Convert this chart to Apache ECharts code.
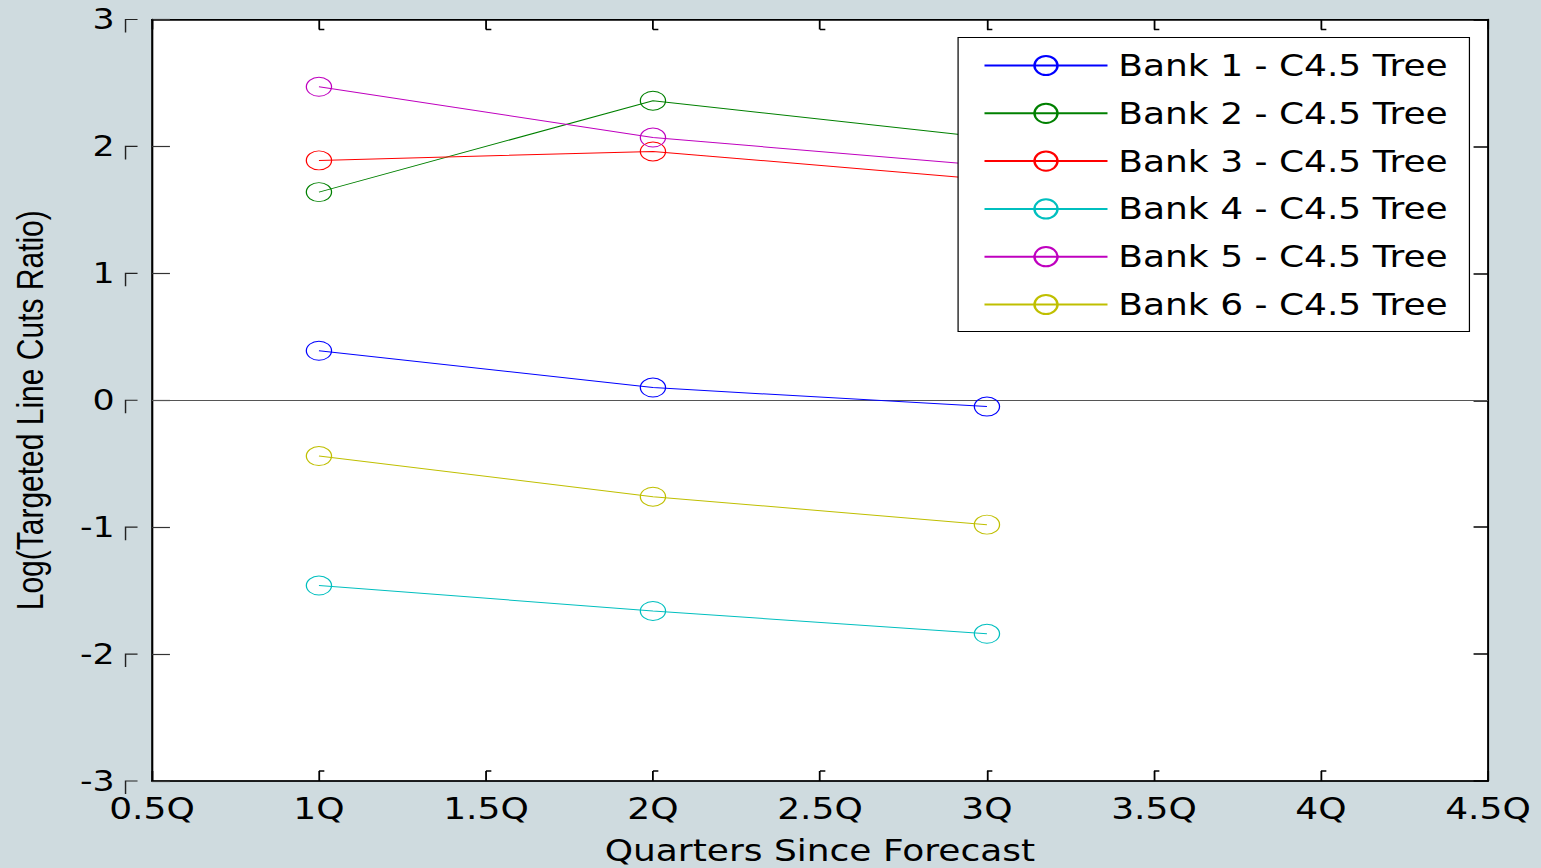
<!DOCTYPE html>
<html><head><meta charset="utf-8">
<script src="https://cdn.jsdelivr.net/npm/echarts@6/dist/echarts.min.js"></script>
<style>
html,body{margin:0;padding:0;background:#cfdbdf;overflow:hidden;}
#wrap{width:1541px;height:868px;overflow:hidden;}
#chart{width:1284px;height:868px;transform:scaleX(1.2001558);transform-origin:0 0;}
</style></head><body><div id="wrap"><div id="chart"></div></div>
<script>
// ---- data ----
const quarters = [1, 2, 3];
const bank1 = [0.39, 0.10, -0.05];
const bank2 = [1.64, 2.36, 2.07];
const bank3 = [1.89, 1.96, 1.74];
const bank4 = [-1.46, -1.66, -1.84];
const bank5 = [2.47, 2.07, 1.85];
const bank6 = [-0.44, -0.76, -0.98];
const seriesNames = ['Bank 1 - C4.5 Tree', 'Bank 2 - C4.5 Tree', 'Bank 3 - C4.5 Tree',
  'Bank 4 - C4.5 Tree', 'Bank 5 - C4.5 Tree', 'Bank 6 - C4.5 Tree'];
const xTickValues = [0.5, 1, 1.5, 2, 2.5, 3, 3.5, 4, 4.5];
const yTickValues = [-3, -2, -1, 0, 1, 2, 3];
const xTickSuffix = 'Q';
const xName = 'Quarters Since Forecast';
const yName = 'Log(Targeted Line Cuts Ratio)';

// ---- styles ----
const colors = ['#0000ff', '#008000', '#ff0000', '#00bfbf', '#bf00bf', '#bfbf00'];
const FONT = 'DejaVu Sans';
const ellipse = 'path://M0,50 A50,50 0 1,1 100,50 A50,50 0 1,1 0,50 Z';

const allBanks = [bank1, bank2, bank3, bank4, bank5, bank6];
const series = allBanks.map((vals, i) => {
  const s = {
    name: seriesNames[i],
    type: 'line',
    data: quarters.map((q, k) => [q, vals[k]]),
    symbol: ellipse,
    symbolSize: [21, 19],
    lineStyle: { color: colors[i], width: 1 },
    itemStyle: { color: 'transparent', borderColor: colors[i], borderWidth: 1 },
    emphasis: { disabled: true },
    z: 3
  };
  if (i === 0) {
    s.markLine = {
      silent: true, symbol: ['none', 'none'], label: { show: false },
      lineStyle: { color: '#555', width: 1, type: 'solid' },
      data: [{ yAxis: 0 }], z: 2
    };
  }
  return s;
});

// small tick decorations (MATLAB-style tick hooks), positioned from the axes
series.push({
  type: 'custom', silent: true, z: 5,
  data: yTickValues.map(v => [1, v]),
  renderItem: function (params, api) {
    const y = api.coord([api.value(0), api.value(1)])[1];
    const x0 = params.coordSys.x;
    return { type: 'polyline', silent: true,
      shape: { points: [[x0 - 22, y + 13], [x0 - 22, y], [x0 - 12, y]] },
      style: { stroke: '#222', fill: null, lineWidth: 1.2 } };
  }
});
series.push({
  type: 'custom', silent: true, z: 5,
  data: xTickValues.slice(1, -1).map(v => [v, 0]),
  renderItem: function (params, api) {
    const x = api.coord([api.value(0), api.value(1)])[0];
    const cs = params.coordSys;
    const yb = cs.y + cs.height, yt = cs.y;
    return { type: 'group', children: [
      { type: 'polyline', silent: true,
        shape: { points: [[x, yb - 10], [x + 4.5, yb - 10]] },
        style: { stroke: '#000', fill: null, lineWidth: 1.5 } },
      { type: 'polyline', silent: true,
        shape: { points: [[x, yt + 10], [x + 4.5, yt + 10]] },
        style: { stroke: '#000', fill: null, lineWidth: 1.5 } }
    ] };
  }
});

const chart = echarts.init(document.getElementById('chart'), null, { renderer: 'svg' });
const axisLineStyle = { show: true, onZero: false, lineStyle: { color: '#000', width: 1.5 } };
chart.setOption({
  animation: false,
  backgroundColor: '#cfdbdf',
  grid: { left: 126.6, top: 19.5, width: 1113.2, height: 761.5, containLabel: false,
          outerBoundsMode: 'none',
          show: true, backgroundColor: '#fff', borderColor: '#000', borderWidth: 1 },
  legend: {
    orient: 'vertical', left: 798.3, top: 37.5,
    padding: [13, 18, 12, 21], itemGap: 17.8, itemWidth: 102.5, itemHeight: 24,
    backgroundColor: '#fff', borderColor: '#000', borderWidth: 1,
    textStyle: { fontSize: 30, fontFamily: FONT, color: '#000', padding: [0, 0, 0, 4] },
    data: seriesNames
  },
  xAxis: [{
    type: 'value', min: 0.5, max: 4.5, interval: 0.5, position: 'bottom',
    axisLine: axisLineStyle,
    axisTick: { show: true, inside: true, length: 10, lineStyle: { color: '#000', width: 1.5 } },
    axisLabel: { formatter: v => v + xTickSuffix, fontSize: 30, fontFamily: FONT, color: '#000',
                 margin: 13, showMinLabel: true, showMaxLabel: true },
    splitLine: { show: false },
    name: xName, nameLocation: 'middle', nameGap: 55,
    nameTextStyle: { fontSize: 30, fontFamily: FONT, color: '#000' }
  }, {
    type: 'value', min: 0.5, max: 4.5, interval: 0.5, position: 'top',
    axisLine: axisLineStyle,
    axisTick: { show: true, inside: true, length: 10, lineStyle: { color: '#000', width: 1.5 } },
    axisLabel: { show: false }, splitLine: { show: false }
  }],
  yAxis: [{
    type: 'value', min: -3, max: 3, interval: 1, position: 'left',
    axisLine: axisLineStyle,
    axisTick: { show: true, inside: true, length: 15, lineStyle: { color: '#333', width: 1.2 } },
    axisLabel: { fontSize: 29, fontFamily: FONT, color: '#000', margin: 31 },
    splitLine: { show: false },
    name: yName, nameLocation: 'middle', nameGap: 86,
    nameTextStyle: { fontSize: 30, fontFamily: 'Liberation Sans', color: '#000', padding: [0, 20, 0, 0] }
  }, {
    type: 'value', min: -3, max: 3, interval: 1, position: 'right',
    axisLine: axisLineStyle,
    axisTick: { show: true, inside: true, length: 12, lineStyle: { color: '#000', width: 1.5 } },
    axisLabel: { show: false }, splitLine: { show: false }
  }],
  series: series
});
</script></body></html>
